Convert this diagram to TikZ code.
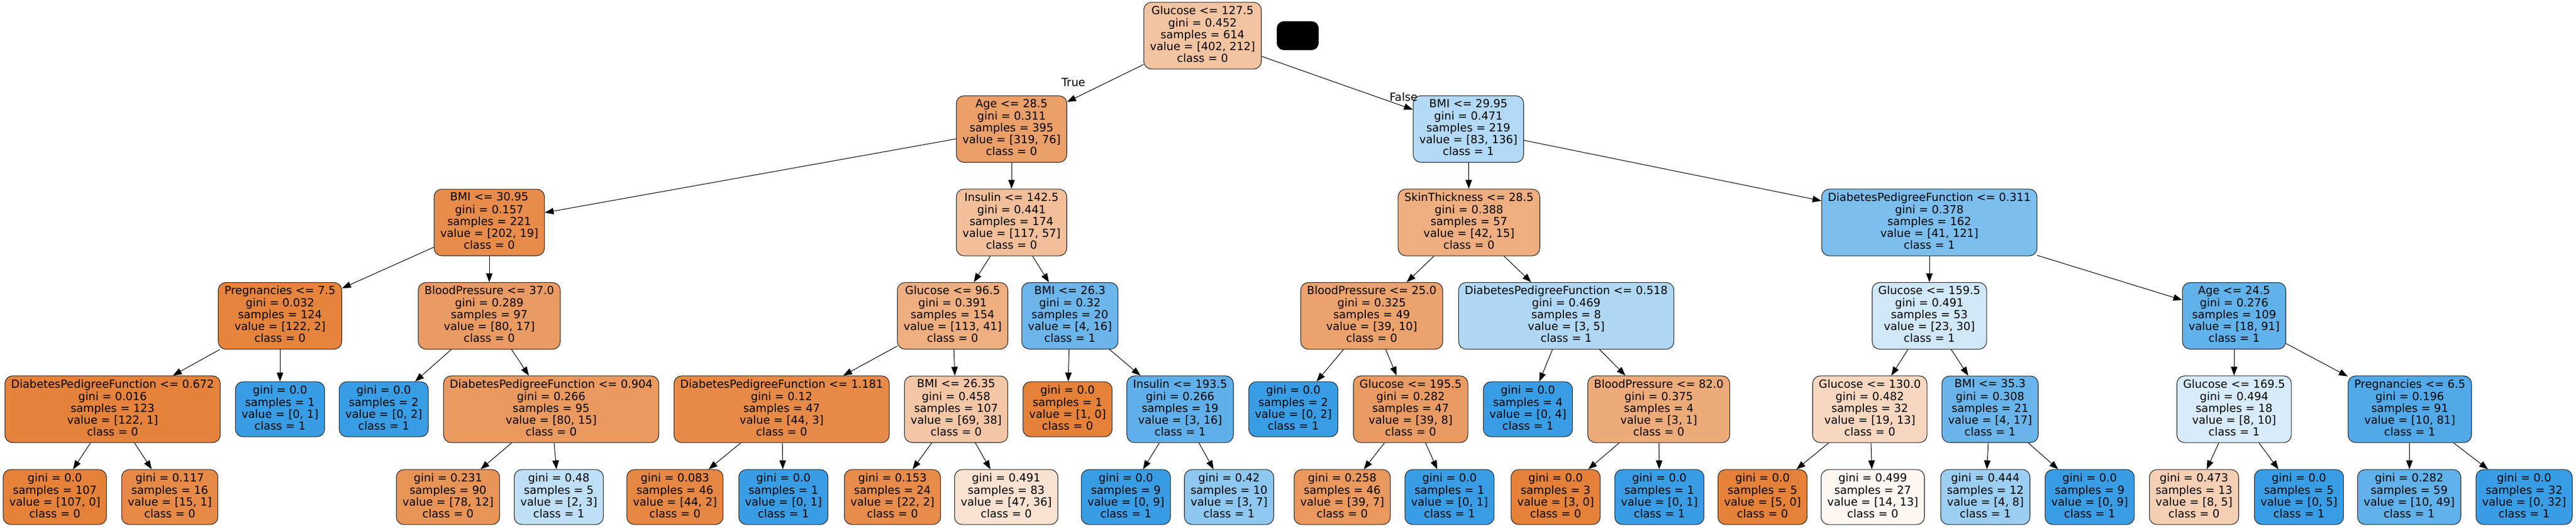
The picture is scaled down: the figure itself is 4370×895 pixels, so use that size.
\documentclass[tikz,border=0pt]{standalone}
\usepackage{fontspec}
\setmainfont{DejaVu Sans}
\usetikzlibrary{arrows.meta}
\definecolor{cz}{RGB}{229,129,57}
\definecolor{co}{RGB}{57,157,229}
\definecolor{bd}{RGB}{40,40,40}
\newcommand\dtsplit[5]{\strut #1\\gini = #2\\samples = #3\\value = [#4]\\class = #5\strut}
\newcommand\dtleaf[4]{\strut gini = #1\\samples = #2\\value = [#3]\\class = #4\strut}
\tikzset{
  tn/.style={draw=bd, line width=1.1pt, rounded corners=13pt, align=center,
    inner xsep=10.5pt, inner ysep=5.75pt, font=\fontsize{18.9}{20}\selectfont},
  lbl/.style={inner sep=0pt, font=\fontsize{18.9}{20}\selectfont},
  lnk/.style={-{Triangle[length=15pt,width=11pt]}, line width=1pt},
}
\begin{document}
\begin{tikzpicture}[x=1pt,y=-1pt]
\useasboundingbox (0,0) rectangle (4370,895);
% level 0
\node[tn, fill=cz!47!white] (n0) at (2040,60.5) {\dtsplit{Glucose <= 127.5}{0.452}{614}{402, 212}{0}};
\node[fill=black, rounded corners=12pt, minimum width=71pt, minimum height=49pt, inner sep=0pt] (blk) at (2201.5,60.5) {};
% level 1
\node[tn, fill=cz!76!white] (a1) at (1716,219) {\dtsplit{Age <= 28.5}{0.311}{395}{319, 76}{0}};
\node[tn, fill=co!39!white] (b1) at (2491,219) {\dtsplit{BMI <= 29.95}{0.471}{219}{83, 136}{1}};
% level 2
\node[tn, fill=cz!91!white] (a2) at (830,377.5) {\dtsplit{BMI <= 30.95}{0.157}{221}{202, 19}{0}};
\node[tn, fill=cz!51!white] (b2) at (1716,377.5) {\dtsplit{Insulin <= 142.5}{0.441}{174}{117, 57}{0}};
\node[tn, fill=cz!64!white] (c2) at (2492,377.5) {\dtsplit{SkinThickness <= 28.5}{0.388}{57}{42, 15}{0}};
\node[tn, fill=co!66!white] (d2) at (3273,377.5) {\dtsplit{DiabetesPedigreeFunction <= 0.311}{0.378}{162}{41, 121}{1}};
% level 3
\node[tn, fill=cz!98!white] (a3) at (475,536) {\dtsplit{Pregnancies <= 7.5}{0.032}{124}{122, 2}{0}};
\node[tn, fill=cz!79!white] (b3) at (830,536) {\dtsplit{BloodPressure <= 37.0}{0.289}{97}{80, 17}{0}};
\node[tn, fill=cz!64!white] (c3) at (1616,536) {\dtsplit{Glucose <= 96.5}{0.391}{154}{113, 41}{0}};
\node[tn, fill=co!75!white] (d3) at (1815,536) {\dtsplit{BMI <= 26.3}{0.32}{20}{4, 16}{1}};
\node[tn, fill=cz!74!white] (e3) at (2327,536) {\dtsplit{BloodPressure <= 25.0}{0.325}{49}{39, 10}{0}};
\node[tn, fill=co!40!white] (f3) at (2657,536) {\dtsplit{DiabetesPedigreeFunction <= 0.518}{0.469}{8}{3, 5}{1}};
\node[tn, fill=co!23!white] (g3) at (3273,536) {\dtsplit{Glucose <= 159.5}{0.491}{53}{23, 30}{1}};
\node[tn, fill=co!80!white] (h3) at (3790,536) {\dtsplit{Age <= 24.5}{0.276}{109}{18, 91}{1}};
% level 4
\node[tn, fill=cz!99!white] (a4) at (191,694.5) {\dtsplit{DiabetesPedigreeFunction <= 0.672}{0.016}{123}{122, 1}{0}};
\node[tn, fill=co] (b4) at (475,694.5) {\dtleaf{0.0}{1}{0, 1}{1}};
\node[tn, fill=co] (c4) at (651,694.5) {\dtleaf{0.0}{2}{0, 2}{1}};
\node[tn, fill=cz!81!white] (d4) at (935,694.5) {\dtsplit{DiabetesPedigreeFunction <= 0.904}{0.266}{95}{80, 15}{0}};
\node[tn, fill=cz!93!white] (e4) at (1326,694.5) {\dtsplit{DiabetesPedigreeFunction <= 1.181}{0.12}{47}{44, 3}{0}};
\node[tn, fill=cz!45!white] (f4) at (1622,694.5) {\dtsplit{BMI <= 26.35}{0.458}{107}{69, 38}{0}};
\node[tn, fill=cz] (g4) at (1811,694.5) {\dtleaf{0.0}{1}{1, 0}{0}};
\node[tn, fill=co!81!white] (h4) at (2002,694.5) {\dtsplit{Insulin <= 193.5}{0.266}{19}{3, 16}{1}};
\node[tn, fill=co] (i4) at (2194,694.5) {\dtleaf{0.0}{2}{0, 2}{1}};
\node[tn, fill=cz!79!white] (j4) at (2393,694.5) {\dtsplit{Glucose <= 195.5}{0.282}{47}{39, 8}{0}};
\node[tn, fill=co] (k4) at (2592,694.5) {\dtleaf{0.0}{4}{0, 4}{1}};
\node[tn, fill=cz!67!white] (l4) at (2814,694.5) {\dtsplit{BloodPressure <= 82.0}{0.375}{4}{3, 1}{0}};
\node[tn, fill=cz!32!white] (m4) at (3172,694.5) {\dtsplit{Glucose <= 130.0}{0.482}{32}{19, 13}{0}};
\node[tn, fill=co!76!white] (n4) at (3376,694.5) {\dtsplit{BMI <= 35.3}{0.308}{21}{4, 17}{1}};
\node[tn, fill=co!20!white] (o4) at (3790,694.5) {\dtsplit{Glucose <= 169.5}{0.494}{18}{8, 10}{1}};
\node[tn, fill=co!88!white] (p4) at (4088,694.5) {\dtsplit{Pregnancies <= 6.5}{0.196}{91}{10, 81}{1}};
% level 5
\node[tn, fill=cz] (a5) at (93,843.5) {\dtleaf{0.0}{107}{107, 0}{0}};
\node[tn, fill=cz!93!white] (b5) at (288,843.5) {\dtleaf{0.117}{16}{15, 1}{0}};
\node[tn, fill=cz!85!white] (c5) at (760,843.5) {\dtleaf{0.231}{90}{78, 12}{0}};
\node[tn, fill=co!33!white] (d5) at (948,843.5) {\dtleaf{0.48}{5}{2, 3}{1}};
\node[tn, fill=cz!95!white] (e5) at (1145,843.5) {\dtleaf{0.083}{46}{44, 2}{0}};
\node[tn, fill=co] (f5) at (1329,843.5) {\dtleaf{0.0}{1}{0, 1}{1}};
\node[tn, fill=cz!91!white] (g5) at (1514,843.5) {\dtleaf{0.153}{24}{22, 2}{0}};
\node[tn, fill=cz!23!white] (h5) at (1707,843.5) {\dtleaf{0.491}{83}{47, 36}{0}};
\node[tn, fill=co] (i5) at (1910,843.5) {\dtleaf{0.0}{9}{0, 9}{1}};
\node[tn, fill=co!57!white] (j5) at (2085,843.5) {\dtleaf{0.42}{10}{3, 7}{1}};
\node[tn, fill=cz!82!white] (k5) at (2277,843.5) {\dtleaf{0.258}{46}{39, 7}{0}};
\node[tn, fill=co] (l5) at (2459,843.5) {\dtleaf{0.0}{1}{0, 1}{1}};
\node[tn, fill=cz] (m5) at (2639,843.5) {\dtleaf{0.0}{3}{3, 0}{0}};
\node[tn, fill=co] (n5) at (2815,843.5) {\dtleaf{0.0}{1}{0, 1}{1}};
\node[tn, fill=cz] (o5) at (2990,843.5) {\dtleaf{0.0}{5}{5, 0}{0}};
\node[tn, fill=cz!7!white] (p5) at (3177,843.5) {\dtleaf{0.499}{27}{14, 13}{0}};
\node[tn, fill=co!50!white] (q5) at (3368,843.5) {\dtleaf{0.444}{12}{4, 8}{1}};
\node[tn, fill=co] (r5) at (3545,843.5) {\dtleaf{0.0}{9}{0, 9}{1}};
\node[tn, fill=cz!38!white] (s5) at (3722,843.5) {\dtleaf{0.473}{13}{8, 5}{0}};
\node[tn, fill=co] (t5) at (3900,843.5) {\dtleaf{0.0}{5}{0, 5}{1}};
\node[tn, fill=co!80!white] (u5) at (4087,843.5) {\dtleaf{0.282}{59}{10, 49}{1}};
\node[tn, fill=co] (v5) at (4282,843.5) {\dtleaf{0.0}{32}{0, 32}{1}};
% edge labels
\node[lbl] (tl) at (1821,140) {True};
\node[lbl] (fl) at (2381,164) {False};
% edges
\foreach \p/\c in {n0/a1, n0/b1, a1/a2, a1/b2, b1/c2, b1/d2,
  a2/a3, a2/b3, b2/c3, b2/d3, c2/e3, c2/f3, d2/g3, d2/h3,
  a3/a4, a3/b4, b3/c4, b3/d4, c3/e4, c3/f4, d3/g4, d3/h4,
  e3/i4, e3/j4, f3/k4, f3/l4, g3/m4, g3/n4, h3/o4, h3/p4,
  a4/a5, a4/b5, d4/c5, d4/d5, e4/e5, e4/f5, f4/g5, f4/h5,
  h4/i5, h4/j5, j4/k5, j4/l5, l4/m5, l4/n5, m4/o5, m4/p5,
  n4/q5, n4/r5, o4/s5, o4/t5, p4/u5, p4/v5}
  \draw[lnk] (\p) -- (\c);
\end{tikzpicture}
\end{document}
